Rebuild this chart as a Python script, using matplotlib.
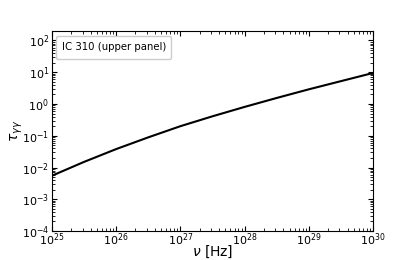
import matplotlib
matplotlib.use("Agg")
import matplotlib.pyplot as plt
import numpy as np

nu = [1e25, 10**25.5, 1e26, 10**26.5, 1e27, 10**27.5, 1e28, 10**28.5, 1e29, 10**29.5, 1e30]
tau = [5.5e-3, 1.5e-2, 3.8e-2, 8.9e-2, 0.20, 0.41, 0.81, 1.55, 2.9, 5.25, 9.5]
label = "IC 310 (upper panel)"

fig = plt.figure(figsize=(4.15, 2.6), dpi=100)
ax = fig.add_axes([0.125, 0.1115, 0.774, 0.7695])
ax.plot(nu, tau, color="black", lw=1.5, label=label)
ax.set_xscale("log")
ax.set_yscale("log")
ax.set_xlim(1e25, 1e30)
ax.set_ylim(1e-4, 2e2)
ax.tick_params(which="both", direction="in", top=True, right=True, labelsize=8)
ax.tick_params(axis="x", which="both", pad=0)
ax.tick_params(axis="y", which="both", pad=2)
ax.tick_params(which="major", length=3.5)
ax.tick_params(which="minor", length=2)
ax.yaxis.set_major_locator(matplotlib.ticker.LogLocator(base=10, numticks=20))
ax.yaxis.set_minor_locator(matplotlib.ticker.LogLocator(base=10, subs=np.arange(2, 10), numticks=20))
ax.set_xlabel(r"$\nu$ [Hz]", fontsize=10, labelpad=-3)
ax.set_ylabel(r"$\tau_{\gamma\gamma}$", fontsize=10, labelpad=-2)
leg = ax.legend(loc="upper left", handlelength=0, handletextpad=0, handleheight=1.6,
                fontsize=7.3, framealpha=1, borderpad=0.5, borderaxespad=0.45)
for h in leg.legend_handles:
    h.set_visible(False)
fig.savefig("out.png", dpi=100)
